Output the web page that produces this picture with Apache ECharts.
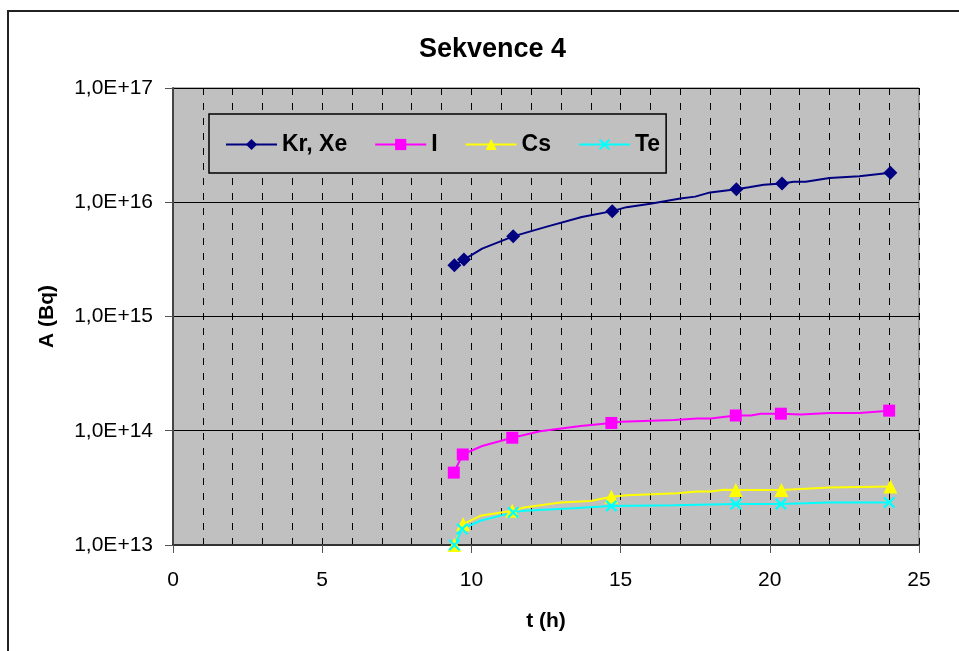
<!DOCTYPE html>
<html>
<head>
<meta charset="utf-8">
<script src="https://cdn.jsdelivr.net/npm/echarts@6/dist/echarts.min.js"></script>
<style>
html,body{margin:0;padding:0;background:#fff;}
#chart{width:959px;height:651px;}
</style>
</head>
<body>
<div id="chart"></div>
<script>
// ---- data ----
const seriesNames = ['Kr, Xe', 'I', 'Cs', 'Te'];

const krT = [9.43, 9.75, 10.36, 11.4, 12.5, 13.7, 14.72, 15.2, 16.0, 17.0, 17.5, 18.0, 18.88, 19.3, 19.8, 20.41, 20.8, 21.2, 22.0, 23.0, 24.04];
const krA = [2.81e15, 3.15e15, 3.93e15, 5.03e15, 6.09e15, 7.44e15, 8.36e15, 9.06e15, 9.7e15, 1.08e16, 1.12e16, 1.22e16, 1.30e16, 1.35e16, 1.42e16, 1.46e16, 1.51e16, 1.51e16, 1.63e16, 1.69e16, 1.81e16];
const krMark = [1,1,0,1,0,0,1,0,0,0,0,0,1,0,0,1,0,0,0,0,1];

const iT = [9.41, 9.71, 10.36, 11.37, 12.3, 13.66, 14.69, 15.0, 16.79, 17.57, 18.02, 18.86, 19.36, 19.7, 20.37, 21.04, 22.0, 23.0, 24.0];
const iA = [4.3e13, 6.2e13, 7.35e13, 8.69e13, 9.9e13, 1.1e14, 1.17e14, 1.2e14, 1.24e14, 1.28e14, 1.28e14, 1.36e14, 1.36e14, 1.41e14, 1.41e14, 1.39e14, 1.43e14, 1.43e14, 1.50e14];
const iMark = [1,1,0,1,0,0,1,0,0,0,0,1,0,0,1,0,0,0,1];

const csT = [9.43, 9.72, 10.3, 11.37, 11.76, 12.99, 14.0, 14.69, 15.22, 16.9, 17.57, 18.02, 18.47, 18.86, 20.39, 22.0, 24.04];
const csA = [1.0e13, 1.52e13, 1.8e13, 1.99e13, 2.13e13, 2.36e13, 2.43e13, 2.64e13, 2.73e13, 2.84e13, 2.94e13, 2.94e13, 3.05e13, 3.03e13, 3.03e13, 3.18e13, 3.25e13];
const csMark = [1,1,0,1,0,0,0,1,0,0,0,0,0,1,1,0,1];

const teT = [9.43, 9.69, 10.3, 11.4, 11.76, 13.43, 14.69, 16.79, 18.86, 20.37, 22.0, 24.0];
const teA = [1.0e13, 1.38e13, 1.63e13, 1.93e13, 1.99e13, 2.1e13, 2.2e13, 2.23e13, 2.28e13, 2.28e13, 2.36e13, 2.36e13];
const teMark = [1,1,0,1,0,0,1,0,1,1,0,1];

const yTickLabels = {13: '1,0E+13', 14: '1,0E+14', 15: '1,0E+15', 16: '1,0E+16', 17: '1,0E+17'};
const xTickValues = [0, 5, 10, 15, 20, 25];

// ---- chart ----
const font = '"Liberation Sans", Arial, sans-serif';
function buildData(t, a, mk) {
  return t.map((x, i) => mk[i] ? {value: [x, a[i]]} : {value: [x, a[i]], symbol: 'none'});
}
const xPath = 'path://M0,1.3 L1.3,0 L5,3.7 L8.7,0 L10,1.3 L6.3,5 L10,8.7 L8.7,10 L5,6.3 L1.3,10 L0,8.7 L3.7,5 Z';

const chart = echarts.init(document.getElementById('chart'), null, {renderer: 'canvas'});
const option = {
  backgroundColor: '#ffffff',
  animation: false,
  title: {
    text: 'Sekvence 4',
    left: 414,
    top: 31,
    textStyle: {fontFamily: font, fontSize: 27, fontWeight: 'bold', color: '#000'}
  },
  legend: {
    left: 209,
    top: 114,
    padding: [19, 6, 17, 16],
    itemWidth: 51,
    itemHeight: 14,
    itemGap: 27,
    backgroundColor: '#C0C0C0',
    borderColor: '#000',
    borderWidth: 1.5,
    textStyle: {fontFamily: font, fontSize: 23, fontWeight: 'bold', color: '#000'},
    data: seriesNames
  },
  graphic: [{
    type: 'rect',
    shape: {x: 8, y: 11, width: 1000, height: 700},
    style: {fill: 'none', stroke: '#222', lineWidth: 2},
    silent: true,
    z: 100
  }],
  grid: {
    left: 173, top: 88, right: 40, bottom: 106,
    show: true,
    backgroundColor: '#C0C0C0',
    borderColor: '#666',
    borderWidth: 1
  },
  xAxis: {
    type: 'value',
    min: 0, max: 25, interval: 5,
    name: 't (h)',
    nameLocation: 'middle',
    nameGap: 66,
    nameTextStyle: {fontFamily: font, fontSize: 21, fontWeight: 'bold', color: '#000'},
    axisLine: {show: true, onZero: false, lineStyle: {color: '#333', width: 2}},
    axisTick: {show: true, inside: false, length: 8, lineStyle: {color: '#555', width: 1}},
    axisLabel: {
      margin: 25, fontFamily: font, fontSize: 21, color: '#000',
      formatter: v => xTickValues.includes(v) ? String(v) : ''
    },
    splitLine: {show: true, lineStyle: {color: '#000', width: 1, type: [7, 8]}},
    minorTick: {show: false, splitNumber: 5},
    minorSplitLine: {show: true, lineStyle: {color: '#000', width: 1, type: [7, 8]}}
  },
  yAxis: {
    type: 'log',
    logBase: 10,
    min: 1e13, max: 1e17,
    name: 'A (Bq)',
    nameLocation: 'middle',
    nameGap: 115,
    nameRotate: 90,
    nameTextStyle: {fontFamily: font, fontSize: 21, fontWeight: 'bold', color: '#000'},
    axisLine: {show: true, lineStyle: {color: '#444', width: 2}},
    axisTick: {show: true, inside: false, length: 8, lineStyle: {color: '#555', width: 1}},
    axisLabel: {
      margin: 20, fontFamily: font, fontSize: 21, color: '#000',
      formatter: v => yTickLabels[Math.round(Math.log10(v))] || ''
    },
    splitLine: {show: true, lineStyle: {color: '#000', width: 1}},
    minorSplitLine: {show: false}
  },
  series: [
    {
      name: seriesNames[0], type: 'line', data: buildData(krT, krA, krMark),
      symbol: 'diamond', symbolSize: 14, showAllSymbol: true,
      lineStyle: {color: '#000080', width: 2}, itemStyle: {color: '#000080'},
      clip: false
    },
    {
      name: seriesNames[1], type: 'line', data: buildData(iT, iA, iMark),
      symbol: 'rect', symbolSize: 12, showAllSymbol: true,
      lineStyle: {color: '#FF00FF', width: 2}, itemStyle: {color: '#FF00FF'},
      clip: false
    },
    {
      name: seriesNames[2], type: 'line', data: buildData(csT, csA, csMark),
      symbol: 'triangle', symbolSize: 14, showAllSymbol: true,
      lineStyle: {color: '#FFFF00', width: 2}, itemStyle: {color: '#FFFF00'},
      clip: false
    },
    {
      name: seriesNames[3], type: 'line', data: buildData(teT, teA, teMark),
      symbol: xPath, symbolSize: 12, showAllSymbol: true,
      lineStyle: {color: '#00FFFF', width: 2}, itemStyle: {color: '#00FFFF'},
      clip: false
    }
  ]
};
chart.setOption(option);
</script>
</body>
</html>
